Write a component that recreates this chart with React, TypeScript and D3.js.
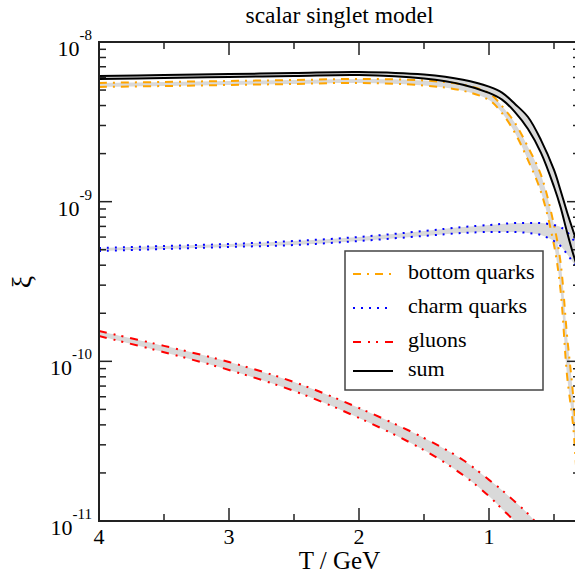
import React from "react";
import * as d3 from "d3";

// Temperature grid (GeV), shared by all curves
const temps = [4, 3.5, 3, 2.5, 2, 1.5, 1.2, 1.0, 0.9, 0.8, 0.7, 0.6, 0.5, 0.45, 0.4, 0.35, 0.3];

// Upper / lower edges of each uncertainty band
const sumHi = [6.12e-9, 6.21e-9, 6.30e-9, 6.39e-9, 6.49e-9, 6.25e-9, 5.80e-9, 5.25e-9, 4.82e-9, 4.09e-9, 3.39e-9, 2.43e-9, 1.58e-9, 1.18e-9, 8.62e-10, 6.46e-10, 4.84e-10];
const sumLo = [5.87e-9, 5.95e-9, 6.04e-9, 6.12e-9, 6.21e-9, 5.90e-9, 5.40e-9, 4.80e-9, 4.36e-9, 3.64e-9, 2.85e-9, 2.02e-9, 1.24e-9, 9.26e-10, 6.46e-10, 4.63e-10, 3.47e-10];

const bottomHi = [5.54e-9, 5.62e-9, 5.70e-9, 5.78e-9, 5.87e-9, 5.74e-9, 5.40e-9, 4.79e-9, 3.97e-9, 3.11e-9, 2.20e-9, 1.47e-9, 7.14e-10, 4.19e-10, 1.46e-10, 5.73e-11, 1.35e-11];
const bottomLo = [5.23e-9, 5.30e-9, 5.38e-9, 5.46e-9, 5.54e-9, 5.34e-9, 4.95e-9, 4.33e-9, 3.59e-9, 2.69e-9, 1.82e-9, 1.15e-9, 5.35e-10, 2.80e-10, 8.21e-11, 3.72e-11, 7.6e-12];

const charmHi = [5.13e-10, 5.28e-10, 5.43e-10, 5.67e-10, 6.01e-10, 6.55e-10, 6.94e-10, 7.14e-10, 7.25e-10, 7.35e-10, 7.35e-10, 7.35e-10, 7.14e-10, 6.94e-10, 6.46e-10, 5.75e-10, 4.98e-10];
const charmLo = [4.91e-10, 5.05e-10, 5.20e-10, 5.35e-10, 5.67e-10, 6.10e-10, 6.37e-10, 6.46e-10, 6.46e-10, 6.46e-10, 6.37e-10, 6.18e-10, 5.67e-10, 5.28e-10, 4.70e-10, 4.13e-10, 3.63e-10];

const gluonHi = [1.55e-10, 1.25e-10, 9.90e-11, 7.42e-11, 5.10e-11, 3.31e-11, 2.41e-11, 1.81e-11, 1.56e-11, 1.32e-11, 1.11e-11, 9.0e-12];
const gluonLo = [1.44e-10, 1.14e-10, 8.83e-11, 6.52e-11, 4.42e-11, 2.78e-11, 1.94e-11, 1.43e-11, 1.19e-11, 9.9e-12, 7.9e-12, 6.3e-12];

const xTicks = [4, 3, 2, 1];
const xMinorTicks = [3.5, 2.5, 1.5, 0.5];
const yExponents = [-8, -9, -10, -11];

const seriesNames = ["bottom quarks", "charm quarks", "gluons", "sum"];
const seriesColors = ["#ffa500", "#0000ff", "#ff0000", "#000000"];
const seriesDashes = ["8,6,2,6", "2,6", "8,7,2,6,2,7", ""];

const W = 575;
const H = 575;
const M = { left: 99, right: 580, top: 42, bottom: 521 };
const FONT = "Liberation Serif, DejaVu Serif, Times New Roman, serif";

export default function App() {
  const x = d3.scaleLinear().domain([4, 0.3]).range([M.left, M.right]);
  const y = d3.scaleLog().domain([1e-11, 1e-8]).range([M.bottom, M.top]);

  type P = { t: number; hi: number; lo: number };
  const mk = (hi: number[], lo: number[]): P[] =>
    hi.map((h, i) => ({ t: temps[i], hi: h, lo: lo[i] }));

  const series = [
    mk(bottomHi, bottomLo),
    mk(charmHi, charmLo),
    mk(gluonHi, gluonLo),
    mk(sumHi, sumLo),
  ];

  const area = d3
    .area<P>()
    .x((d) => x(d.t))
    .y0((d) => y(d.lo))
    .y1((d) => y(d.hi))
    .curve(d3.curveCatmullRom);
  const lineHi = d3.line<P>().x((d) => x(d.t)).y((d) => y(d.hi)).curve(d3.curveCatmullRom);
  const lineLo = d3.line<P>().x((d) => x(d.t)).y((d) => y(d.lo)).curve(d3.curveCatmullRom);

  // minor ticks on the log axis: 2..9 x 10^n
  const yMinor: number[] = [];
  for (let e = -11; e < -8; e++) {
    for (let k = 2; k <= 9; k++) yMinor.push(k * Math.pow(10, e));
  }

  const major = 13;
  const minor = 7;
  const legendY = [274, 308, 342, 371];
  const txt = { fontFamily: FONT };

  return (
    <svg width={W} height={H} style={{ position: "absolute", left: 0, top: 0, fontFamily: FONT }}>
      <rect width={W} height={H} fill="#fff" />
      <defs>
        <clipPath id="plot">
          <rect x={M.left} y={M.top} width={M.right - M.left} height={M.bottom - M.top} />
        </clipPath>
      </defs>

      <g clipPath="url(#plot)">
        {series.map((s, i) => (
          <path key={"b" + i} d={area(s) || ""} fill="#d9d9d9" />
        ))}
        {series.map((s, i) => (
          <g key={"l" + i} fill="none" stroke={seriesColors[i]} strokeWidth={2} strokeDasharray={seriesDashes[i] || undefined}>
            <path d={lineHi(s) || ""} />
            <path d={lineLo(s) || ""} />
          </g>
        ))}
      </g>

      {/* frame */}
      <rect x={M.left} y={M.top} width={M.right - M.left} height={M.bottom - M.top} fill="none" stroke="#222" strokeWidth={2} />

      {/* ticks */}
      <g stroke="#222" strokeWidth={1.5}>
        {xTicks.map((t) => (
          <g key={"xt" + t}>
            <line x1={x(t)} x2={x(t)} y1={M.bottom} y2={M.bottom - major} />
            <line x1={x(t)} x2={x(t)} y1={M.top} y2={M.top + major} />
          </g>
        ))}
        {xMinorTicks.map((t) => (
          <g key={"xm" + t}>
            <line x1={x(t)} x2={x(t)} y1={M.bottom} y2={M.bottom - minor} />
            <line x1={x(t)} x2={x(t)} y1={M.top} y2={M.top + minor} />
          </g>
        ))}
        {yExponents.map((e) => (
          <g key={"yt" + e}>
            <line x1={M.left} x2={M.left + major} y1={y(Math.pow(10, e))} y2={y(Math.pow(10, e))} />
            <line x1={M.right} x2={M.right - major} y1={y(Math.pow(10, e))} y2={y(Math.pow(10, e))} />
          </g>
        ))}
        {yMinor.map((v, i) => (
          <g key={"ym" + i}>
            <line x1={M.left} x2={M.left + minor} y1={y(v)} y2={y(v)} />
            <line x1={M.right} x2={M.right - minor} y1={y(v)} y2={y(v)} />
          </g>
        ))}
      </g>

      {/* tick labels */}
      {xTicks.map((t) => (
        <text key={"xl" + t} style={txt} x={x(t)} y={544} textAnchor="middle" fontSize={22} fill="#000">
          {t}
        </text>
      ))}
      {yExponents.map((e) => (
        <text key={"yl" + e} style={txt} x={92} y={y(Math.pow(10, e)) + 14} textAnchor="end" fontSize={22} fill="#000">
          10
          <tspan dy={-16} fontSize={15}>
            {String(e)}
          </tspan>
        </text>
      ))}

      {/* titles */}
      <text style={txt} x={(M.left + M.right) / 2} y={23} textAnchor="middle" fontSize={23.5} fill="#000">
        scalar singlet model
      </text>
      <text style={txt} x={(M.left + M.right) / 2} y={569} textAnchor="middle" fontSize={25} fill="#000">
        T / GeV
      </text>
      <text style={txt} transform="translate(31,282) rotate(-90)" textAnchor="middle" fontSize={28} fill="#000">
        ξ
      </text>

      {/* legend */}
      <rect x={345} y={251} width={198} height={139} fill="#fff" stroke="#444" strokeWidth={1.5} />
      {seriesNames.map((name, i) => (
        <g key={"lg" + i}>
          <line
            x1={353}
            x2={393}
            y1={legendY[i]}
            y2={legendY[i]}
            stroke={seriesColors[i]}
            strokeWidth={2}
            strokeDasharray={seriesDashes[i] || undefined}
          />
          <text style={txt} x={408} y={legendY[i] + 5} fontSize={22} fill="#000">
            {name}
          </text>
        </g>
      ))}
    </svg>
  );
}
